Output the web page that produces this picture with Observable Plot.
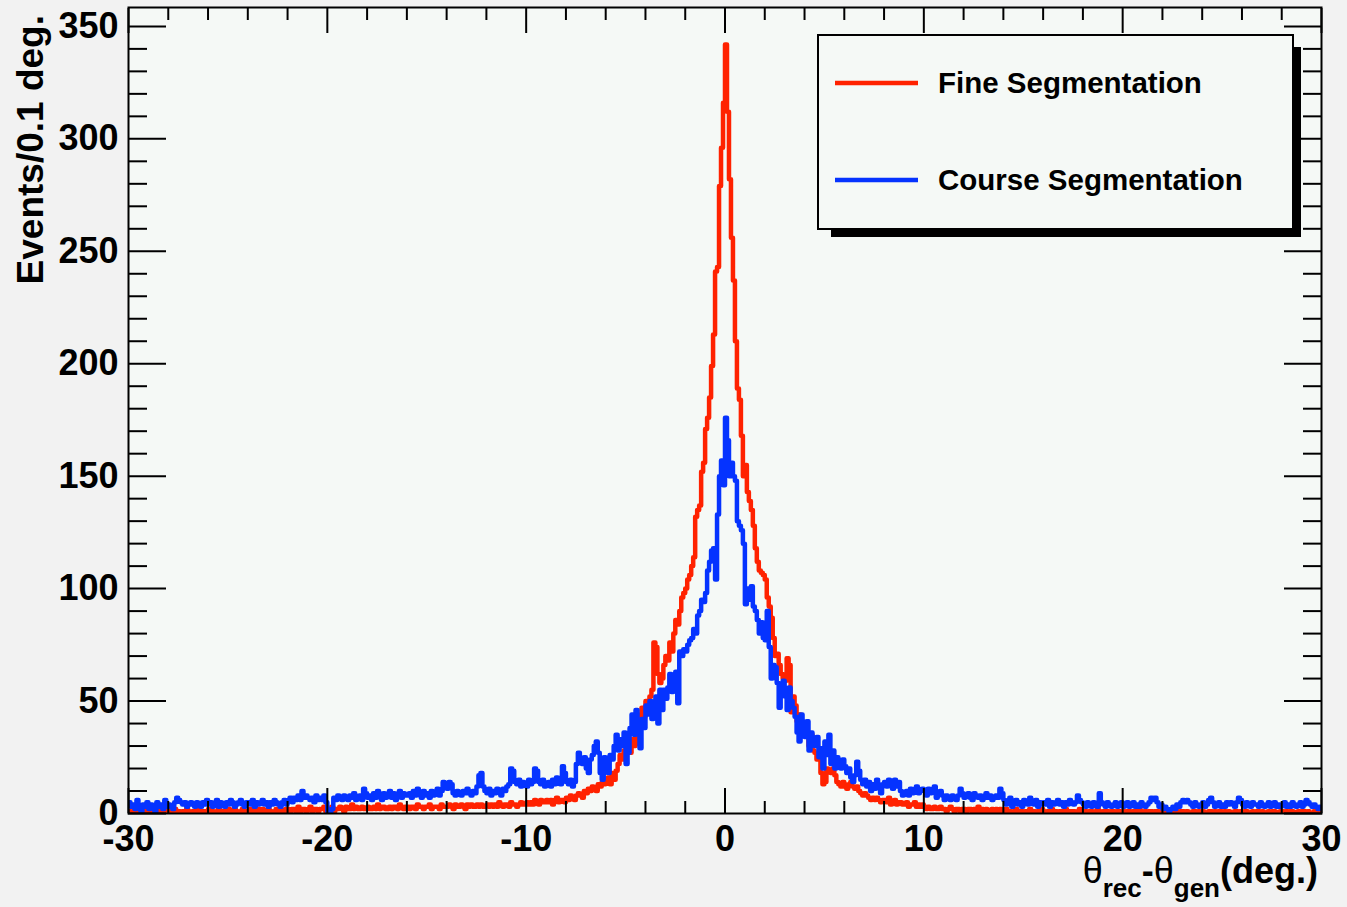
<!DOCTYPE html>
<html><head><meta charset="utf-8">
<script src="https://cdn.jsdelivr.net/npm/d3@7"></script>
<script src="https://cdn.jsdelivr.net/npm/@observablehq/plot@0.6"></script>
<style>
html,body{margin:0;padding:0;background:#f2f2f2;}
#chart{width:1347px;height:907px;}
</style></head><body><div id="chart"></div>
<script>
// ---- series info ----
const seriesNames = ["Fine Segmentation", "Course Segmentation"];
const seriesColors = ["#ff2200", "#0533ff"];
const binStart = -30;   // deg, left edge of first bin
const binWidth = 0.1;   // deg per bin

// Fine segmentation: events per 0.1 deg bin, -30 .. +30 (each row = 2 deg)
const fine = [
1,0,1,1,0,2,1,0,1,1,0,1,2,1,0,1,1,0,1,1,
1,0,1,2,1,1,0,1,1,2,1,0,1,1,1,2,0,1,1,1,
2,1,1,0,1,2,1,1,1,0,2,1,1,2,1,0,1,2,1,1,
1,2,1,1,0,2,1,2,1,1,2,1,0,1,2,1,2,1,1,2,
2,1,2,2,1,3,1,2,2,1,2,3,1,2,2,1,2,2,3,1,
2,2,3,1,2,2,3,2,1,3,2,2,4,2,3,2,2,3,2,2,
3,2,2,3,2,4,2,3,3,2,2,3,2,3,3,2,4,3,2,3,
3,2,3,3,2,4,3,3,2,3,3,4,2,3,3,3,2,4,3,3,
3,4,3,2,4,3,3,4,3,2,4,3,4,3,3,4,3,4,3,3,
4,3,4,3,4,3,5,4,3,4,4,3,5,4,4,3,4,5,4,4,
5,4,5,4,6,5,4,6,5,5,6,5,6,4,6,7,5,6,6,5,
7,6,8,7,6,8,9,8,7,10,9,11,10,12,11,10,13,12,14,13,
14,16,13,18,15,19,22,26,24,28,28,32,27,33,30,35,31,44,47,43,
50,46,52,55,76,74,62,58,60,66,70,68,76,72,80,86,84,90,96,98,
100,104,106,110,114,132,135,137,152,156,171,176,185,199,213,241,243,279,296,316,
342,312,282,256,237,210,189,184,168,150,155,143,139,135,128,118,112,108,107,106,
104,96,92,87,78,70,71,66,62,60,59,69,66,45,52,48,41,44,40,36,
38,34,30,35,28,27,24,25,18,13,14,20,19,18,20,17,14,13,12,14,
12,11,13,14,12,11,12,10,9,8,9,8,7,6,7,6,7,6,5,6,
6,5,7,4,5,6,4,5,5,4,4,5,3,4,4,5,3,4,3,4,
3,2,3,2,2,3,2,2,3,2,2,1,2,3,2,1,2,2,1,2,
2,1,2,2,1,2,1,3,1,2,1,2,1,1,2,1,2,1,2,1,
1,2,1,1,0,1,2,1,1,1,0,1,1,2,1,1,0,1,1,2,
1,0,1,1,2,1,1,0,1,1,1,2,0,1,1,1,0,1,2,1,
1,1,0,1,1,0,1,2,1,0,1,1,1,0,1,1,0,1,1,0,
1,0,1,1,0,1,1,0,2,1,0,1,0,1,1,0,1,1,0,1,
0,1,1,0,1,0,1,1,0,1,1,0,1,0,0,1,1,0,1,0,
1,0,0,1,1,0,1,0,1,1,0,1,0,1,0,0,1,1,0,1,
0,1,1,0,0,1,0,1,1,0,1,0,0,1,0,1,1,0,0,1,
1,0,1,0,1,1,0,0,1,0,1,1,0,1,0,0,1,1,0,1
];

// Course segmentation
const course = [
5,3,4,2,6,3,1,4,3,5,2,4,3,1,5,3,4,2,6,3,
4,3,2,5,7,6,5,4,5,3,4,5,4,3,5,4,3,5,4,6,
4,5,3,4,6,3,5,4,3,5,4,6,5,3,4,5,6,4,3,5,
5,4,6,3,5,4,5,6,4,5,3,5,4,6,5,4,3,5,6,4,
6,7,5,7,6,8,6,10,7,8,7,6,7,5,8,6,7,6,8,5,
1,0,2,7,6,8,7,6,8,7,6,8,7,9,6,7,8,6,11,9,
7,8,6,9,7,10,8,6,9,7,8,10,7,9,6,8,10,7,9,8,
8,9,7,10,8,11,9,7,10,8,9,7,10,8,9,11,8,10,14,12,
11,14,13,9,8,10,9,8,10,9,11,9,8,10,9,12,17,18,12,10,
9,11,8,10,9,11,10,8,11,10,12,13,20,19,14,13,15,12,14,13,
12,15,13,14,20,19,14,13,15,12,13,14,12,15,13,16,14,13,21,18,
14,13,15,12,14,22,27,24,22,25,20,18,24,26,30,32,27,18,15,25,
22,18,26,24,30,35,28,33,30,36,22,27,38,44,35,46,40,29,42,38,
48,44,50,42,47,52,40,55,46,55,51,56,62,54,60,63,49,72,70,73,
72,75,77,78,82,80,88,90,95,94,98,108,112,117,118,104,133,150,157,146,
176,166,150,156,150,148,130,128,126,120,93,100,95,101,92,90,86,80,85,78,
77,90,74,60,66,65,58,47,55,59,52,46,56,50,47,43,36,32,44,38,
34,41,28,36,33,30,34,25,29,20,32,26,35,22,28,20,25,22,20,24,
21,18,20,16,14,17,23,19,15,13,15,12,14,10,13,11,15,12,9,13,
14,12,15,13,11,15,12,14,10,8,9,10,8,11,9,10,12,9,10,11,
10,8,11,9,10,12,7,9,10,8,6,8,7,6,8,7,6,8,11,9,
7,8,9,7,6,9,8,7,8,6,7,9,7,8,6,7,8,7,11,9,
6,4,5,7,3,5,6,4,5,3,6,5,4,7,5,4,6,3,5,4,
5,4,6,3,5,4,5,6,4,5,3,5,4,6,5,4,5,8,6,5,
4,3,5,4,3,5,4,3,9,5,4,3,5,4,3,4,5,3,4,5,
3,4,5,3,4,5,3,4,3,5,4,3,4,5,7,6,7,5,3,4,
2,3,2,1,2,3,2,4,3,5,6,5,6,5,4,3,5,4,3,4,
5,3,4,6,7,5,3,4,5,3,4,3,5,4,5,4,3,5,7,6,
4,3,5,4,3,5,4,4,3,5,4,3,4,5,3,4,5,3,4,3,
4,5,3,4,3,5,4,3,4,5,3,4,6,5,4,3,4,3,2,3
];

// ---- axes ticks ----
const xDomain = [-30, 30];
const yDomain = [0, 358.4];
const xMajorTicks = [-30, -20, -10, 0, 10, 20, 30];
const xMinorTicks = [-28,-26,-24,-22,-18,-16,-14,-12,-8,-6,-4,-2,2,4,6,8,12,14,16,18,22,24,26,28];
const yMajorTicks = [0, 50, 100, 150, 200, 250, 300, 350];
const yMinorTicks = [10,20,30,40,60,70,80,90,110,120,130,140,160,170,180,190,210,220,230,240,260,270,280,290,310,320,330,340];
const yTitle = "Events/0.1 deg.";

// step data: left edges + closing edge
function toSteps(values, name) {
  const pts = values.map((v, i) => ({x: binStart + i * binWidth, y: v, series: name}));
  pts.push({x: binStart + values.length * binWidth, y: values[values.length - 1], series: name});
  return pts;
}
const fineSteps = toSteps(fine, seriesNames[0]);
const courseSteps = toSteps(course, seriesNames[1]);

const FONT = "'Liberation Sans', Arial, Helvetica, sans-serif";
const noText = () => "";

const plot = Plot.plot({
  width: 1347,
  height: 907,
  marginLeft: 128,
  marginRight: 26,
  marginTop: 7,
  marginBottom: 94,
  style: {background: "transparent", fontFamily: FONT, overflow: "visible"},
  x: {domain: xDomain},
  y: {domain: yDomain},
  marks: [
    Plot.frame({fill: "#f5f9f6", stroke: null}),
    Plot.line(fineSteps, {x: "x", y: "y", curve: "step-after", stroke: seriesColors[0], strokeWidth: 4.5, clip: true}),
    Plot.line(courseSteps, {x: "x", y: "y", curve: "step-after", stroke: seriesColors[1], strokeWidth: 4.5, clip: true}),
    Plot.frame({stroke: "#000", strokeWidth: 2}),
    // inward ticks, four sides
    Plot.axisX({ticks: xMajorTicks, anchor: "bottom", tickSize: -25, tickFormat: noText, label: null, strokeWidth: 2}),
    Plot.axisX({ticks: xMinorTicks, anchor: "bottom", tickSize: -12, tickFormat: noText, label: null, strokeWidth: 2}),
    Plot.axisX({ticks: xMajorTicks, anchor: "top", tickSize: -25, tickFormat: noText, label: null, strokeWidth: 2}),
    Plot.axisX({ticks: xMinorTicks, anchor: "top", tickSize: -12, tickFormat: noText, label: null, strokeWidth: 2}),
    Plot.axisY({ticks: yMajorTicks, anchor: "left", tickSize: -38, tickFormat: noText, label: null, strokeWidth: 2}),
    Plot.axisY({ticks: yMinorTicks, anchor: "left", tickSize: -19, tickFormat: noText, label: null, strokeWidth: 2}),
    Plot.axisY({ticks: yMajorTicks, anchor: "right", tickSize: -38, tickFormat: noText, label: null, strokeWidth: 2}),
    Plot.axisY({ticks: yMinorTicks, anchor: "right", tickSize: -19, tickFormat: noText, label: null, strokeWidth: 2}),
    // tick labels
    Plot.axisX({ticks: xMajorTicks, anchor: "bottom", tickSize: 0, tickPadding: 12, tickFormat: d => `${d}`, label: null,
      fontSize: 36, fontWeight: "bold", fill: "#000"}),
    Plot.axisY({ticks: yMajorTicks, anchor: "left", tickSize: 0, tickPadding: 10, tickFormat: d => `${d}`, label: null,
      fontSize: 36, fontWeight: "bold", fill: "#000"})
  ]
});

const svg = d3.select(plot);

// y-axis title (ROOT style: top aligned, rotated)
svg.append("text")
  .attr("transform", "translate(43,15) rotate(-90)")
  .attr("text-anchor", "end")
  .attr("font-family", FONT).attr("font-size", 37).attr("font-weight", "bold").attr("fill", "#000")
  .text(yTitle);

// x-axis title with subscripts
const xt = svg.append("text")
  .attr("x", 1318).attr("y", 883)
  .attr("text-anchor", "end")
  .attr("font-family", FONT).attr("font-size", 36).attr("font-weight", "bold").attr("fill", "#000");
xt.append("tspan").attr("font-weight", "normal").text("θ");
xt.append("tspan").attr("font-size", 26).attr("dy", 14).text("rec");
xt.append("tspan").attr("dy", -14).text("-");
xt.append("tspan").attr("font-weight", "normal").text("θ");
xt.append("tspan").attr("font-size", 26).attr("dy", 14).text("gen");
xt.append("tspan").attr("dy", -14).text("(deg.)");

// legend box with shadow
const lg = svg.append("g").attr("text-anchor", "start");
lg.append("rect").attr("x", 831).attr("y", 47).attr("width", 470).attr("height", 190).attr("fill", "#000");
lg.append("rect").attr("x", 818).attr("y", 35).attr("width", 475).attr("height", 194)
  .attr("fill", "#f5f9f6").attr("stroke", "#000").attr("stroke-width", 2);
const legendRows = [83, 180];
seriesNames.forEach((name, i) => {
  const y = legendRows[i];
  lg.append("line").attr("x1", 835).attr("x2", 918).attr("y1", y).attr("y2", y)
    .attr("stroke", seriesColors[i]).attr("stroke-width", 4.5);
  lg.append("text").attr("x", 938).attr("y", y + 10).attr("text-anchor", "start")
    .attr("font-family", FONT).attr("font-size", 29.5).attr("font-weight", "bold").attr("fill", "#000")
    .text(name);
});

document.getElementById("chart").appendChild(plot);
</script>
</body></html>
